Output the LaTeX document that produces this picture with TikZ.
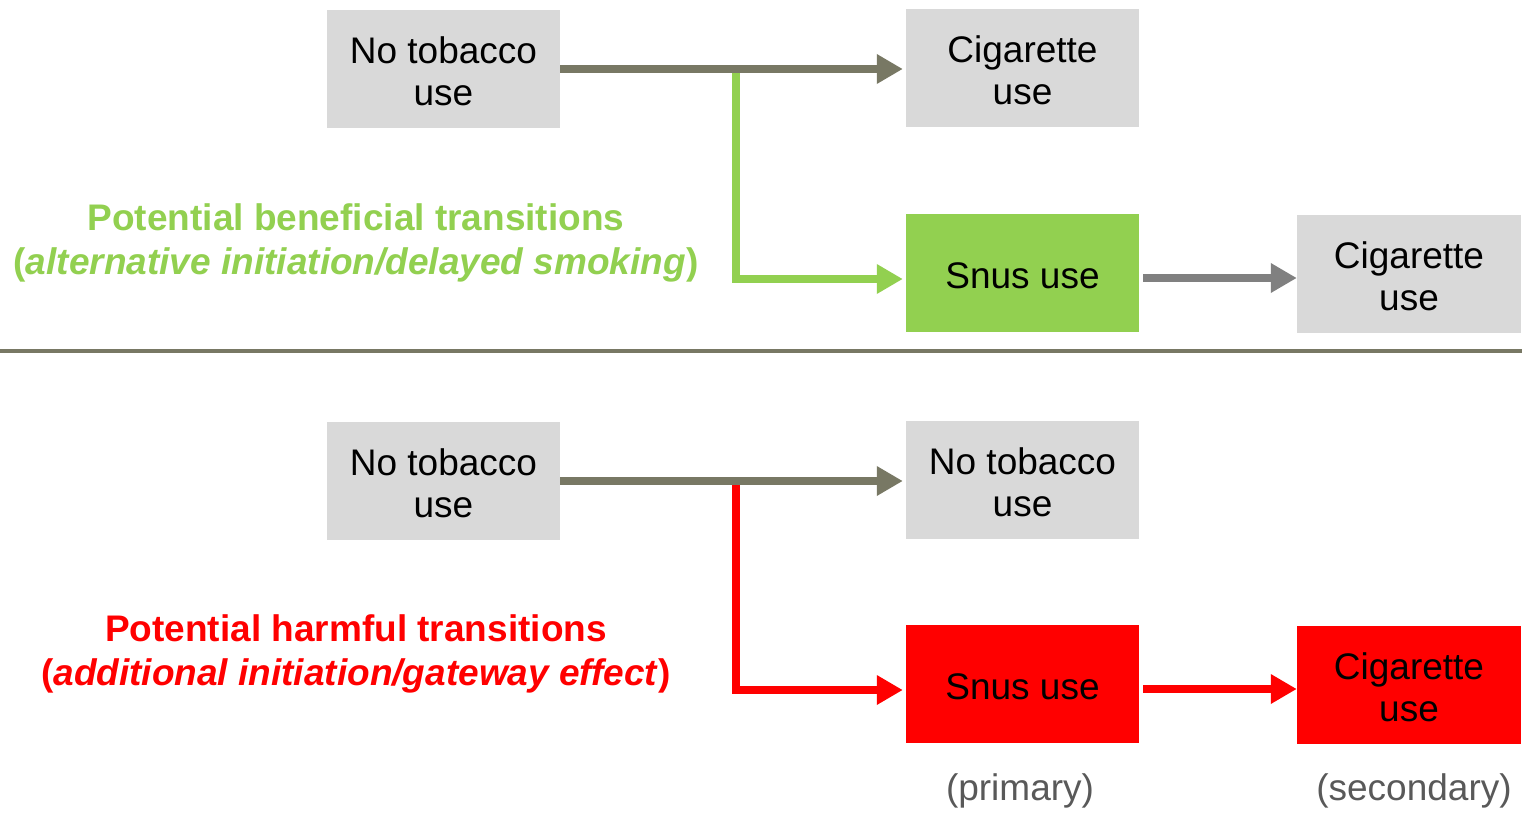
\documentclass[tikz,border=0pt]{standalone}
\usepackage{fontspec}
\setmainfont{Liberation Sans}
\usetikzlibrary{arrows.meta}
\definecolor{boxgray}{HTML}{D9D9D9}
\definecolor{snusgreen}{HTML}{92D050}
\definecolor{harmred}{HTML}{FF0000}
\definecolor{olivegray}{HTML}{787864}
\definecolor{midgray}{HTML}{808080}
\definecolor{captext}{HTML}{595959}
\newcommand{\tallstrut}{\rule{0pt}{31pt}}
\begin{document}
\begin{tikzpicture}[x=1pt,y=-1pt,
  box/.style={rectangle, fill=boxgray, minimum width=233pt, minimum height=118pt,
    inner sep=0pt, align=center, font=\fontsize{37}{42}\selectfont},
  conn/.style={line width=8pt, -{Triangle[length=26pt,width=28pt]}},
  lbl/.style={font=\fontsize{37}{44}\selectfont\bfseries, inner sep=0pt},
  captxt/.style={font=\fontsize{37}{44}\selectfont, text=captext, inner sep=0pt}]
\fill[white] (0,0) rectangle (1522,813);
\useasboundingbox (0,0) rectangle (1522,813);

% boxes
\node[box] (nt1) at (443.5,69) {\tallstrut No tobacco\\use};
\node[box] (cig1) at (1022.5,68) {\tallstrut Cigarette\\use};
\node[box, fill=snusgreen] (snus1) at (1022.5,273) {\tallstrut Snus use};
\node[box, minimum width=224pt] (cig2) at (1409,274) {\tallstrut Cigarette\\use};
\node[box] (nt2) at (443.5,481) {\tallstrut No tobacco\\use};
\node[box] (nt3) at (1022.5,480) {\tallstrut No tobacco\\use};
\node[box, fill=harmred] (snus2) at (1022.5,684) {\tallstrut Snus use};
\node[box, fill=harmred, minimum width=224pt] (cig3) at (1409,685) {\tallstrut Cigarette\\use};

% separator
\draw[line width=4pt, olivegray] (0,351) -- (1522,351);

% top connectors
\coordinate (b1) at (736,69);
\draw[conn, snusgreen, shorten >=3pt] (b1) |- ([yshift=-6pt]snus1.west);
\draw[conn, olivegray, shorten >=3pt] (nt1.east) -- (nt1.east -| cig1.west);
\draw[conn, midgray, shorten <=4pt] ([yshift=-5pt]snus1.east) -- ([yshift=-5pt]snus1.east -| cig2.west);

% bottom connectors
\coordinate (b2) at (736,481);
\draw[conn, harmred, shorten >=3pt] (b2) |- ([yshift=-6pt]snus2.west);
\draw[conn, olivegray, shorten >=3pt] (nt2.east) -- (nt2.east -| nt3.west);
\draw[conn, harmred, shorten <=4pt] ([yshift=-5pt]snus2.east) -- ([yshift=-5pt]snus2.east -| cig3.west);

% labels
\node[lbl, text=snusgreen, anchor=base] (g1) at (356,230) {Potential beneficial transitions};
\node[lbl, text=snusgreen, anchor=base] (g2) at (356,274) {(\textit{alternative initiation/delayed smoking})};
\node[lbl, text=harmred, anchor=base] (r1) at (356,641) {Potential harmful transitions};
\node[lbl, text=harmred, anchor=base] (r2) at (356,685) {(\textit{additional initiation/gateway effect})};

% captions
\node[captxt, anchor=base] (p1) at (1020,800) {(primary)};
\node[captxt, anchor=base] (p2) at (1414,800) {(secondary)};
\end{tikzpicture}
\end{document}
